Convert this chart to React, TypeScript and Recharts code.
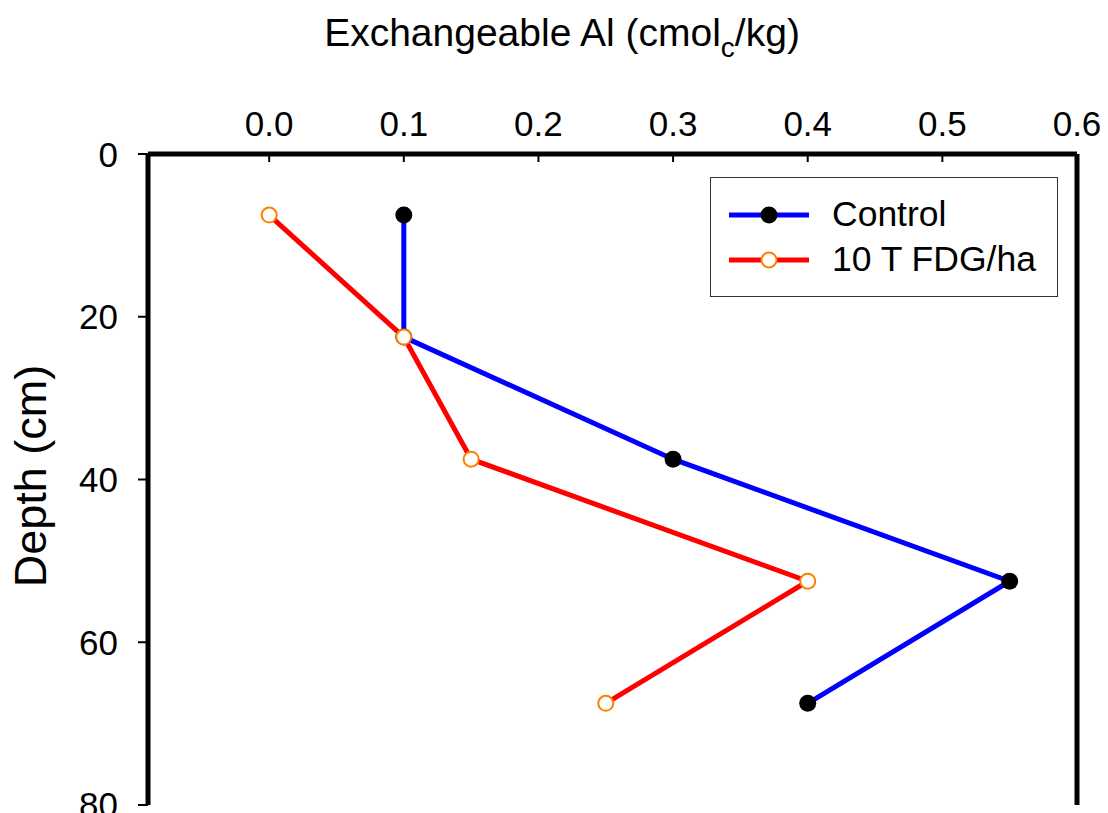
import { Legend, ReferenceLine, Scatter, ScatterChart, XAxis, YAxis } from 'recharts';

// depth midpoints (cm) and exchangeable Al (cmolc/kg)
const depths = [7.5, 22.5, 37.5, 52.5, 67.5];
const controlAl = [0.1, 0.1, 0.3, 0.55, 0.4];
const fdgAl = [0.0, 0.1, 0.15, 0.4, 0.25];

const xTicks = [0, 0.1, 0.2, 0.3, 0.4, 0.5, 0.6];
const yTicks = [0, 20, 40, 60, 80];

const controlData = depths.map((d, i) => ({ al: controlAl[i], depth: d }));
const fdgData = depths.map((d, i) => ({ al: fdgAl[i], depth: d }));

const FONT = '"Liberation Sans", Arial, sans-serif';
const BLUE = '#0000ff';
const RED = '#ff0000';
const ORANGE = '#ff8000';
const TICK_FONT = 35;

const TopTick = (props: any) => {
  const { x, y, payload } = props;
  return (
    <g>
      <text x={x} y={y} textAnchor="middle" fontSize={TICK_FONT} fontFamily={FONT} fill="#000">
        {Number(payload.value).toFixed(1)}
      </text>
      <line x1={x} x2={x} y1={y + 18} y2={y + 26} stroke="#000" strokeWidth={2} />
    </g>
  );
};

const LeftTick = (props: any) => {
  const { x, y, payload } = props;
  return (
    <text x={x} y={y} dy="0.36em" textAnchor="end" fontSize={TICK_FONT} fontFamily={FONT} fill="#000">
      {payload.value}
    </text>
  );
};

const ControlDot = (props: any) => <circle cx={props.cx} cy={props.cy} r={8.5} fill="#000" />;
const FdgDot = (props: any) => (
  <circle cx={props.cx} cy={props.cy} r={7.5} fill="#fff" stroke={ORANGE} strokeWidth={2} />
);

const Title = () => (
  <text x={562} y={46} textAnchor="middle" fontSize={39} fontFamily={FONT} fill="#000">
    Exchangeable Al (cmol
    <tspan fontSize={28} dy={11}>c</tspan>
    <tspan dy={-11}>/kg)</tspan>
  </text>
);

const DepthLabel = () => (
  <text
    x={46}
    y={476}
    transform="rotate(-90 46 476)"
    textAnchor="middle"
    fontSize={45}
    fontFamily={FONT}
    fill="#000"
  >
    Depth (cm)
  </text>
);

const LegendBox = () => (
  <div
    style={{
      width: 346,
      height: 118,
      border: '1.5px solid #333',
      background: '#fff',
      fontFamily: FONT,
      fontSize: 35.5,
      color: '#000',
      boxSizing: 'content-box',
    }}
  >
    {[
      { name: 'Control', color: BLUE, fill: '#000', stroke: 'none' },
      { name: '10 T FDG/ha', color: RED, fill: '#fff', stroke: ORANGE },
    ].map((s, i) => (
      <div key={s.name} style={{ display: 'flex', alignItems: 'center', height: 45, marginTop: i === 0 ? 14 : 0 }}>
        <svg width={120} height={24} style={{ marginLeft: 18 }}>
          <line x1={0} x2={80} y1={12} y2={12} stroke={s.color} strokeWidth={5} />
          <circle cx={40} cy={12} r={s.stroke === 'none' ? 8.5 : 7.5} fill={s.fill} stroke={s.stroke} strokeWidth={2} />
        </svg>
        <span style={{ marginLeft: -17, lineHeight: '45px' }}>{s.name}</span>
      </div>
    ))}
  </div>
);

export default function App() {
  return (
    <div style={{ position: 'absolute', left: 0, top: 0, background: '#fff' }}>
      <ScatterChart width={1108} height={813} margin={{ top: 114, right: 31, bottom: 8, left: 88 }}>
        <XAxis
          type="number"
          dataKey="al"
          orientation="top"
          domain={[-0.09, 0.6]}
          ticks={xTicks}
          height={40}
          allowDataOverflow
          axisLine={{ stroke: '#000', strokeWidth: 5 }}
          tickLine={false}
          tickSize={0}
          tickMargin={18}
          tick={<TopTick />}
          label={<Title />}
        />
        <YAxis
          type="number"
          dataKey="depth"
          domain={[0, 80]}
          reversed
          ticks={yTicks}
          width={60}
          axisLine={{ stroke: '#000', strokeWidth: 5 }}
          tickLine={{ stroke: '#000', strokeWidth: 2 }}
          tickSize={10}
          tickMargin={20}
          tick={<LeftTick />}
          label={<DepthLabel />}
        />
        <ReferenceLine x={0.6} stroke="#000" strokeWidth={5} />
        <Scatter
          name="Control"
          data={controlData}
          line={{ stroke: BLUE, strokeWidth: 5 }}
          shape={<ControlDot />}
          isAnimationActive={false}
        />
        <Scatter
          name="10 T FDG/ha"
          data={fdgData}
          line={{ stroke: RED, strokeWidth: 5 }}
          shape={<FdgDot />}
          isAnimationActive={false}
        />
        <Legend
          layout="vertical"
          align="center"
          verticalAlign="middle"
          content={<LegendBox />}
          wrapperStyle={{ left: 710, top: 177, width: 350, right: 'auto', bottom: 'auto' }}
        />
      </ScatterChart>
    </div>
  );
}
